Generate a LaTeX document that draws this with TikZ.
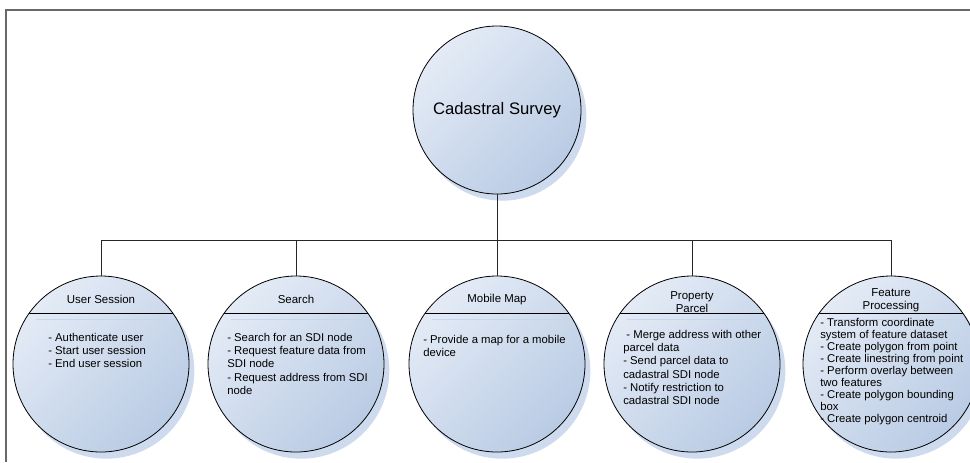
\documentclass[tikz,border=0pt]{standalone}
\usepackage{fontspec}
\setmainfont{Liberation Sans}
\usetikzlibrary{shadows,calc}

\definecolor{cirtop}{RGB}{228,235,246}
\definecolor{cirbot}{RGB}{185,203,228}
\definecolor{shadowc}{RGB}{206,218,238}
\definecolor{framec}{RGB}{105,105,105}
\definecolor{hlc}{RGB}{200,214,236}

\begin{document}
\begin{tikzpicture}[x=0.75pt,y=-0.75pt,
  bubble/.style={circle,draw=black,line width=0.6pt,inner sep=0pt,top color=cirtop,bottom color=cirbot,shading angle=45,drop shadow={shadow xshift=4pt,shadow yshift=-5pt,fill=shadowc,opacity=1}},
  task/.style={bubble,minimum size=132pt},
  title/.style={align=center,inner sep=0pt,font=\fontsize{8.6}{9.8}\selectfont},
  body/.style={anchor=north west,align=left,inner sep=0pt,font=\fontsize{8.5}{9.9}\selectfont},
  link/.style={draw=black!85,line width=0.6pt},
  hl/.style={draw=hlc,line width=1pt}]
\useasboundingbox (0,0) rectangle (970,462);

% frame
\draw[framec,line width=1pt] (6,462) -- (6,10) -- (970,10);

% Nodes
\node[bubble,minimum size=126pt,font=\fontsize{12.5}{15}\selectfont] (survey) at (497,110) {Cadastral Survey};
\coordinate (bus) at (497,240);

\node[task] (session) at (101,364) {};
\node[task] (search) at (296,364) {};
\node[task] (mobmap) at (497,364) {};
\node[task] (parcel) at (692,364) {};
\node[task] (feature) at (891,364) {};

% dividers
\foreach \n in {session,search,mobmap,parcel,feature}{
  \draw[line width=0.6pt] (\n.145) -- (\n.35);
  \draw[hl,shorten <=9pt,shorten >=2pt] (\n.150) -- (\n.30);
}

% titles
\node[title] (sessiont) at ([shift={(0,-65)}]session.center) {User Session};
\node[title] (searcht) at ([shift={(0,-65)}]search.center) {Search};
\node[title] (mobmapt) at ([shift={(0,-64)}]mobmap.center) {Mobile Map};
\node[title] (parcelt) at ([shift={(0,-62)}]parcel.center) {Property\\Parcel};
\node[title] (featuret) at ([shift={(0,-64)}]feature.center) {Feature\\Processing};

% bodies
\node[body] (sessionb) at ([shift={(-53,-31)}]session.center) {- Authenticate user\\- Start user session\\- End user session};
\node[body] (searchb) at ([shift={(-69,-31)}]search.center) {- Search for an SDI node\\- Request feature data from\\SDI node\\- Request address from SDI\\node};
\node[body] (mobmapb) at ([shift={(-74,-29)}]mobmap.center) {- Provide a map for a mobile\\device};
\node[body] (parcelb) at ([shift={(-69,-34)}]parcel.center) {\ - Merge address with other\\parcel data\\- Send parcel data to\\cadastral SDI node\\- Notify restriction to\\cadastral SDI node};
\node[body,font=\fontsize{8.5}{9}\selectfont] (featureb) at ([shift={(-71,-46)}]feature.center) {- Transform coordinate\\system of feature dataset\\- Create polygon from point\\- Create linestring from point\\- Perform overlay between\\two features\\- Create polygon bounding\\box\\- Create polygon centroid};

%arcs
\draw[link] (survey.south) -- (bus);
\foreach \n in {session,search,mobmap,parcel,feature}
  \draw[link] (bus) -| (\n.north);

\end{tikzpicture}
\end{document}
